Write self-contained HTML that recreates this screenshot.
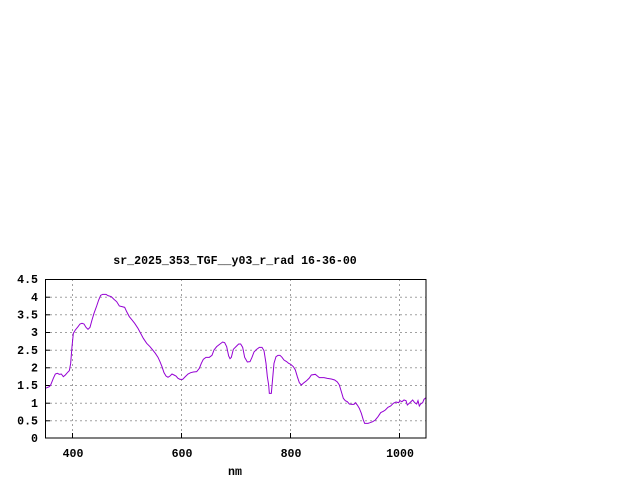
<!DOCTYPE html>
<html><head><meta charset="utf-8"><style>
html,body{margin:0;padding:0;background:#fff;}
svg text{font-family:"Liberation Mono",monospace;font-weight:bold;font-size:11.6px;fill:#000;}
</style></head><body>
<svg width="640" height="480" viewBox="0 0 640 480" xmlns="http://www.w3.org/2000/svg">
<rect width="640" height="480" fill="#fff"/>
<g stroke="#a0a0a0" stroke-width="1" stroke-dasharray="2,3" fill="none">
<line x1="45" y1="420.8" x2="426" y2="420.8"/>
<line x1="45" y1="403.2" x2="426" y2="403.2"/>
<line x1="45" y1="385.5" x2="426" y2="385.5"/>
<line x1="45" y1="367.8" x2="426" y2="367.8"/>
<line x1="45" y1="350.2" x2="426" y2="350.2"/>
<line x1="45" y1="332.5" x2="426" y2="332.5"/>
<line x1="45" y1="314.8" x2="426" y2="314.8"/>
<line x1="45" y1="297.2" x2="426" y2="297.2"/>
<line x1="72.5" y1="279" x2="72.5" y2="438"/>
<line x1="181.5" y1="279" x2="181.5" y2="438"/>
<line x1="290.5" y1="279" x2="290.5" y2="438"/>
<line x1="399.5" y1="279" x2="399.5" y2="438"/>
</g>
<g stroke="#000" stroke-width="1">
<line x1="45" y1="420.8" x2="50" y2="420.8"/><line x1="45" y1="403.2" x2="50" y2="403.2"/>
<line x1="45" y1="385.5" x2="50" y2="385.5"/><line x1="45" y1="367.8" x2="50" y2="367.8"/>
<line x1="45" y1="350.2" x2="50" y2="350.2"/><line x1="45" y1="332.5" x2="50" y2="332.5"/>
<line x1="45" y1="314.8" x2="50" y2="314.8"/><line x1="45" y1="297.2" x2="50" y2="297.2"/>
<line x1="72.5" y1="438" x2="72.5" y2="433"/><line x1="181.5" y1="438" x2="181.5" y2="433"/>
<line x1="290.5" y1="438" x2="290.5" y2="433"/><line x1="399.5" y1="438" x2="399.5" y2="433"/>
</g>
<g transform="translate(0,250) scale(0.33333)">
<polyline fill="none" stroke="#9400d3" stroke-width="3" points="136,415 148,410 152,405 160,385 166,372 172,370 178,373 184,372 190,380 196,375 202,368 208,362 212,340 216,290 220,250 226,240 234,230 240,222 246,220 252,222 258,232 264,238 270,232 276,210 282,190 290,168 296,150 302,136 308,133 318,133 324,137 334,140 342,148 350,155 358,168 366,170 374,172 380,185 388,200 396,210 404,220 414,235 422,250 430,265 440,280 450,290 458,300 466,310 474,322 480,335 486,350 492,368 498,378 504,382 510,378 516,372 522,375 528,378 534,385 540,388 548,388 556,380 564,372 572,368 580,366 590,365 598,355 604,340 610,328 618,322 628,322 636,316 642,300 650,290 660,282 668,276 674,278 680,290 686,318 690,326 694,322 700,298 708,290 716,282 722,282 728,292 734,322 742,336 750,335 756,322 762,306 770,298 778,292 786,292 792,302 798,340 802,380 806,405 808,430 814,430 818,385 822,340 828,320 834,316 840,316 846,322 852,330 860,335 866,340 872,343 880,350 886,360 892,380 898,398 904,405 912,398 920,392 928,384 934,375 946,373 952,378 958,383 972,383 982,385 994,387 1004,390 1012,396 1018,405 1024,425 1030,445 1036,452 1042,455 1048,462 1056,463 1062,463 1066,458 1072,465 1078,475 1084,490 1090,510 1094,520 1104,520 1110,518 1118,515 1126,510 1134,500 1142,488 1150,484 1156,480 1164,472 1172,468 1180,460 1188,456 1196,458 1200,452 1206,455 1212,450 1218,452 1222,465 1230,458 1238,450 1244,458 1250,462 1254,452 1258,468 1262,462 1268,458 1272,448 1279,442"/>
</g>
<rect x="45.5" y="279.5" width="380.5" height="158.5" fill="none" stroke="#000" stroke-width="1"/>
<g text-anchor="end">
<text x="38" y="442">0</text><text x="38" y="424.5">0.5</text>
<text x="38" y="407">1</text><text x="38" y="389">1.5</text>
<text x="38" y="371.5">2</text><text x="38" y="354">2.5</text>
<text x="38" y="336">3</text><text x="38" y="318.5">3.5</text>
<text x="38" y="301">4</text><text x="38" y="283">4.5</text>
</g>
<g text-anchor="middle">
<text x="73" y="457">400</text><text x="182" y="457">600</text>
<text x="291" y="457">800</text><text x="400" y="457">1000</text>
<text x="235" y="475">nm</text>
<text x="235" y="264">sr_2025_353_TGF__y03_r_rad 16-36-00</text>
</g>
</svg>
</body></html>
